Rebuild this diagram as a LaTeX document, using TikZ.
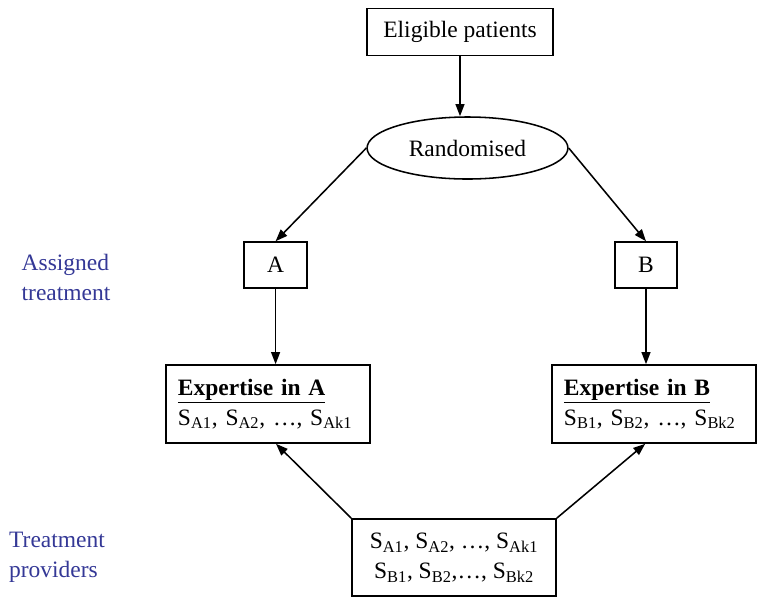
\documentclass[tikz,border=0pt]{standalone}
\usepackage{fontspec}
\setmainfont{Liberation Serif}
\usetikzlibrary{shapes.geometric,arrows.meta}
\definecolor{labelblue}{RGB}{52,56,150}

\begin{document}
\begin{tikzpicture}[x=0.025cm, y=-0.025cm,
    every node/.style={font=\fontsize{16.7}{21.3}\selectfont},
    box/.style={draw, line width=1.1pt, inner sep=0pt, align=center},
    expbox/.style={box, inner xsep=0.3cm, minimum height=1.95cm, text width=4.5cm, align=left},
    flow/.style={line width=1.1pt, -{Triangle[length=0.3cm, width=0.22cm]}},
    sidelabel/.style={text=labelblue, align=left}]
    \useasboundingbox (0,0) rectangle (764,608);

    % Patients and randomisation
    \node[box, minimum width=4.65cm, minimum height=1.18cm] (elig) at (460,32) {Eligible patients};
    \node[draw, ellipse, line width=1.1pt, inner sep=0pt, minimum width=5.02cm, minimum height=1.55cm] (rand) at (467.5,148) {Randomised};

    % Assigned treatment
    \node[box, minimum width=1.58cm, minimum height=1.15cm] (A) at (275.6,265) {A};
    \node[box, minimum width=1.55cm, minimum height=1.15cm] (B) at (646,265) {B};

    % Expertise
    \node[expbox] (expA) at (268,404) {\underline{\textbf{Expertise in A}}\\
        S\textsubscript{A1}, S\textsubscript{A2}, \dots, S\textsubscript{Ak1}};
    \node[expbox] (expB) at (654,404) {\underline{\textbf{Expertise in B}}\\
        S\textsubscript{B1}, S\textsubscript{B2}, \dots, S\textsubscript{Bk2}};

    % Providers
    \node[box, minimum width=5.1cm, minimum height=1.93cm] (prov) at (454,557.5) {%
        S\textsubscript{A1}, S\textsubscript{A2}, \dots, S\textsubscript{Ak1}\\
        S\textsubscript{B1}, S\textsubscript{B2},\dots, S\textsubscript{Bk2}};

    % Side labels
    \node[sidelabel] (assigned) at (66,277) {Assigned\\treatment};
    \node[sidelabel] (providers) at (57,557) {Treatment\\providers};

    % Arrows
    \draw[flow] (elig) -- (elig |- rand.north);
    \draw[flow] (rand.west) -- (A.north);
    \draw[flow] (rand.east) -- (B.north);
    \draw[flow] (A) -- (A |- expA.north);
    \draw[flow] (B) -- (B |- expB.north);
    \draw[flow] (prov.north west) -- ([xshift=0.2cm]expA.south);
    \draw[flow] (prov.north east) -- ([xshift=-0.22cm]expB.south);
\end{tikzpicture}
\end{document}
